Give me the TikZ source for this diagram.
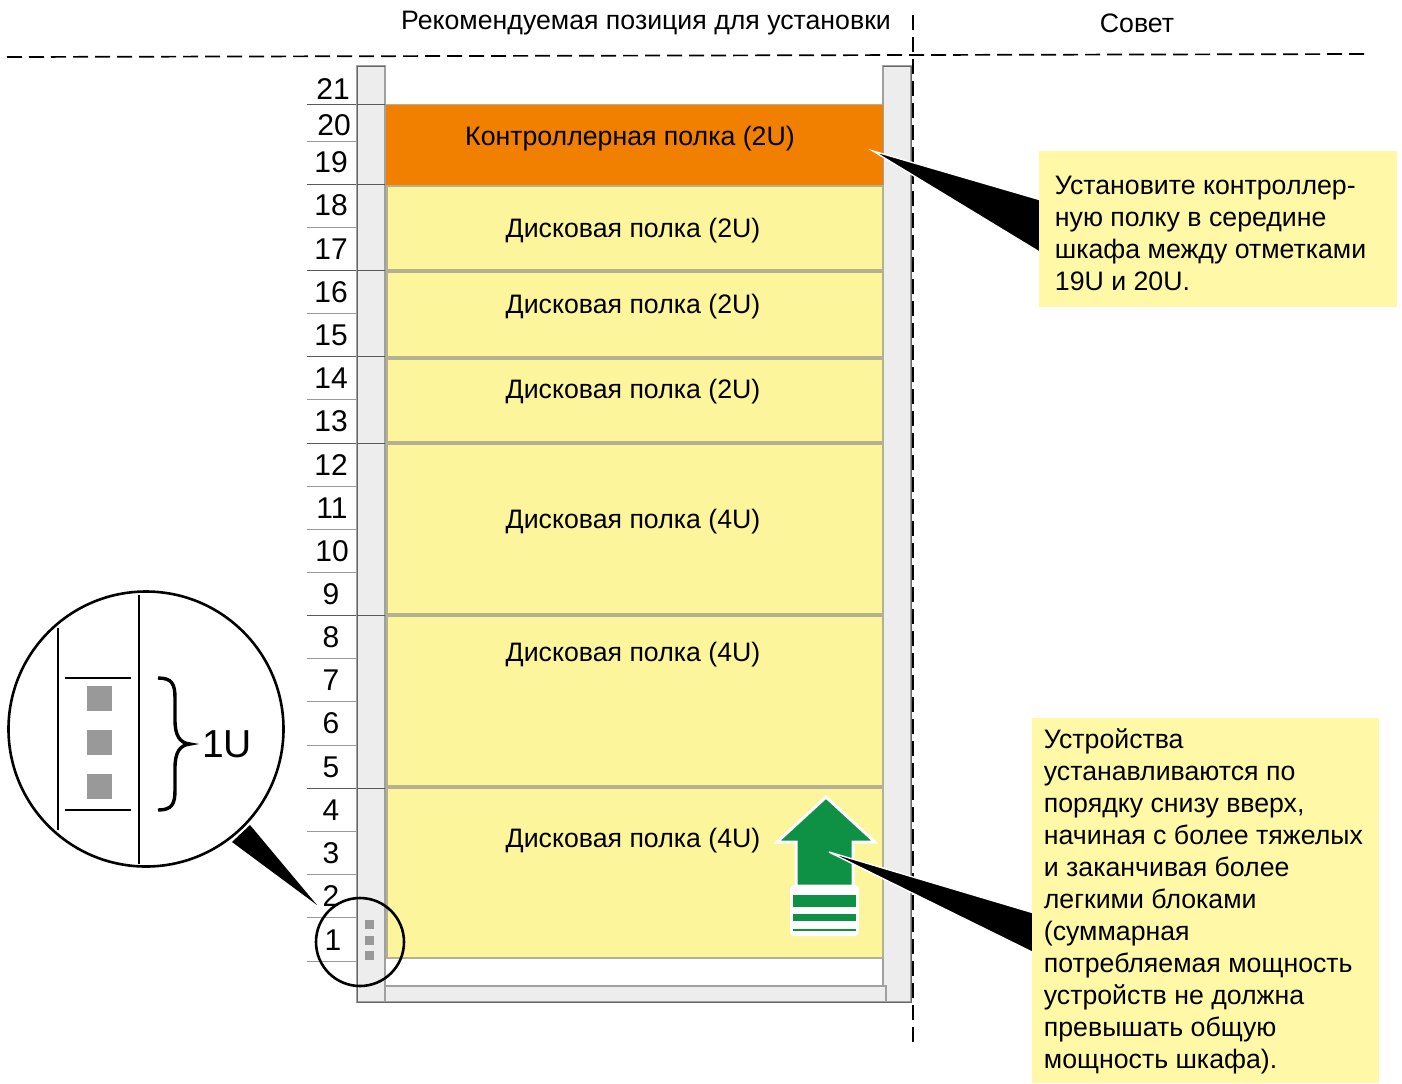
\documentclass[tikz,border=0pt]{standalone}
\usepackage{fontspec}
\setmainfont{Liberation Sans}
\definecolor{railgrey}{HTML}{EDEDED}
\definecolor{edgegrey}{HTML}{A0A0A0}
\definecolor{shelfyellow}{HTML}{FDF59B}
\definecolor{shelfedge}{HTML}{B5B090}
\definecolor{noteyellow}{HTML}{FFF8A6}
\definecolor{ctrlorange}{HTML}{F18000}
\definecolor{squaregrey}{HTML}{999999}
\definecolor{arrowgreen}{HTML}{0F9145}
\begin{document}
\begin{tikzpicture}[x=0.5pt,y=-0.5pt,
  railbox/.style={fill=railgrey,draw=edgegrey,line width=0.6pt},
  shelfbox/.style={fill=shelfyellow,draw=shelfedge,line width=0.55pt},
  shelflabel/.style={anchor=base,inner sep=0pt,font=\fontsize{13.35}{16}\selectfont},
  unum/.style={anchor=base,inner sep=0pt,font=\fontsize{15}{18}\selectfont},
  ulinelight/.style={draw=black!40,line width=0.5pt},
  ulinedark/.style={draw=black!65,line width=0.5pt},
  dashline/.style={draw=black,line width=0.85pt,dash pattern=on 7.5pt off 3.5pt},
  notebox/.style={fill=noteyellow,draw=none,inner sep=0pt,anchor=north west},
  notetext/.style={anchor=north west,inner sep=0pt,align=left,font=\fontsize{13.35}{16}\selectfont},
  wedge/.style={fill=black,draw=none},
  sq/.style={fill=squaregrey,draw=none},
  lens/.style={draw=black,line width=1.3pt},
  inner/.style={draw=black,line width=1.25pt}]
\useasboundingbox (0,0) rectangle (1402,1083);
% headers
\node[shelflabel] (head1) at (646,29) {Рекомендуемая позиция для установки};
\node[shelflabel] (head2) at (1137,32) {Совет};
% U scale lines
\foreach \y in {141,227,313,399,486,529,572,658,701,745,831,874,917,961}
  \draw[ulinelight] (307,\y) -- (357,\y);
\foreach \y in {104,184,270,356,443,615,788}
  \draw[ulinedark] (307,\y) -- (385,\y);
% rails
\path[railbox] (357,66) rectangle (385,1002);
\path[railbox] (883,66) rectangle (911,1002);
\path[railbox] (385,986) rectangle (886,1002);
\draw[black!60,line width=0.4pt] (385,66) -- (357,66) -- (357,1002) -- (911,1002) -- (911,66) -- (883,66);
\foreach \y in {104,184,270,356,443,615,788}
  \draw[ulinedark] (357,\y) -- (385,\y);
% shelves
\fill[ctrlorange] (386,104) rectangle (883,185);
\draw[shelfedge] (386,104) -- (883,104) (386,185) -- (883,185);
\path[shelfbox] (387,186) rectangle (883,270);
\path[shelfbox] (387,272) rectangle (883,357);
\path[shelfbox] (387,359) rectangle (883,442);
\path[shelfbox] (387,444) rectangle (883,614);
\path[shelfbox] (387,616) rectangle (883,786);
\path[shelfbox] (387,788) rectangle (883,958);
\node[shelflabel] (ctrl) at (630,145) {Контроллерная полка (2U)};
\node[shelflabel] (s1) at (633,237) {Дисковая полка (2U)};
\node[shelflabel] (s2) at (633,313) {Дисковая полка (2U)};
\node[shelflabel] (s3) at (633,398) {Дисковая полка (2U)};
\node[shelflabel] (s4) at (633,528) {Дисковая полка (4U)};
\node[shelflabel] (s5) at (633,661) {Дисковая полка (4U)};
\node[shelflabel] (s6) at (633,847) {Дисковая полка (4U)};
% U numbers
\foreach \n/\x/\y in {21/333/89,20/334/125,19/331/162,18/331/205,17/331/249,16/331/292,15/331/335,14/331/378,13/331/421,12/331/465,11/332/508,10/332/551,9/331/594,8/331/637,7/331/680,6/331/723,5/331/767,4/331/810,3/331/853,2/331/896,1/333/940}
  \node[unum] (u\n) at (\x,\y+10.5) {\n};
% dashed lines
\draw[dashline] (7,57) -- (1365,54);
\draw[dashline] (913,15) -- (913,1045);
% green arrow
\fill[white,rounded corners=2pt] (790,885) rectangle (859,936);
\path[fill=arrowgreen,draw=white,line width=1.5pt,line join=miter]
  (826,797) -- (875,842) -- (853,842) -- (853,886) -- (796,886) -- (796,842) -- (777,842) -- cycle;
\fill[arrowgreen] (793,895) rectangle (856,907);
\fill[arrowgreen] (793,914) rectangle (856,921);
\fill[arrowgreen] (793,929) rectangle (856,931);
% callouts
\coordinate (tip1) at (873,151);
\coordinate (tip2) at (829,852);
\coordinate (tip3) at (317,905);
\path[wedge,draw=white,line width=0.7pt] (tip1) -- (1041,200) -- (1041,253) -- cycle;
\path[wedge,draw=white,line width=0.7pt] (tip2) -- (1034,913) -- (1034,953) -- cycle;
\node[notebox,minimum width=179pt,minimum height=78pt] (note1) at (1039,151) {};
\node[notebox,minimum width=173.5pt,minimum height=182.5pt] (note2) at (1032,718) {};
\node[notetext] (text1) at (1054.5,175.5) {Установите контроллер-\\ную полку в середине\\шкафа между отметками\\19U и 20U.};
\node[notetext] (text2) at (1043.5,728) {Устройства\\устанавливаются по\\порядку снизу вверх,\\начиная с более тяжелых\\и заканчивая более\\легкими блоками\\(суммарная\\потребляемая мощность\\устройств не должна\\превышать общую\\мощность шкафа).};
% small lens
\foreach \y in {920,936,951} \fill[sq] (365,\y) rectangle (374,\y+9);
\node[circle,lens,minimum size=44pt,inner sep=0pt] (lenssmall) at (360,942) {};
% big lens
\node[circle,lens,minimum size=137.5pt,inner sep=0pt] (lensbig) at (146,729) {};
\path[wedge] (tip3) -- (250,825) -- (232,842) -- cycle;
\draw[inner] (58,628) -- (58,830);
\draw[inner] (139,595) -- (139,864);
\draw[inner] (65,678) -- (131,678);
\draw[inner] (65,810) -- (131,810);
\foreach \y in {686,730,774} \fill[sq] (87,\y) rectangle (112,\y+25);
\draw[draw=black,line width=1.7pt] (158,678) .. controls (172,678) and (175,684) .. (175,698)
  -- (175,720) .. controls (175,736) and (180,743) .. (190,744)
  .. controls (180,745) and (175,752) .. (175,768) -- (175,790)
  .. controls (175,804) and (172,810) .. (158,810);
\node[anchor=base,inner sep=0pt,font=\fontsize{19.5}{22}\selectfont] (oneu) at (227,757) {1U};
\end{tikzpicture}
\end{document}
